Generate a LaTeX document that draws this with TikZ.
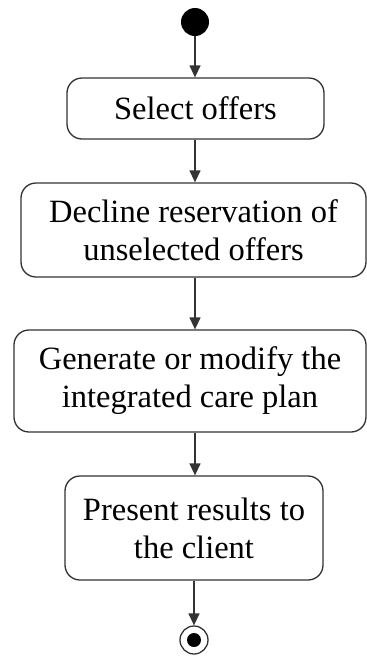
\documentclass[tikz,border=0pt]{standalone}
\usepackage{fontspec}
\setmainfont{Liberation Serif}
\usetikzlibrary{arrows.meta}
\begin{document}
\begin{tikzpicture}[x=1pt,y=1pt,
  line/.style={draw=black!80,line width=1.3pt},
  act/.style={line,rounded corners=15pt,align=center,inner sep=0pt,
    font=\fontsize{32.5}{38}\selectfont,fill=white},
  flow/.style={line,-{Triangle[width=11pt,length=12pt]}},
  ]
\useasboundingbox (0,0) rectangle (367,-657);
\fill[white] (0,0) rectangle (367,-657);
\coordinate (col) at (195,0);
\node[circle,fill=black,minimum size=28pt,inner sep=0pt] (start) at (195,-22) {};
\node[act,minimum width=257pt,minimum height=61pt] (a1) at (195.5,-108.5) {Select offers};
\node[act,minimum width=345pt,minimum height=94pt] (a2) at (193.5,-230) {Decline reservation of\\unselected offers};
\node[act,minimum width=352pt,minimum height=102pt] (a3) at (190,-381) {Generate or modify the\\integrated care plan};
\node[act,minimum width=258pt,minimum height=104pt] (a4) at (194,-528) {Present results to\\the client};
\node[circle,line,fill=white,minimum size=28pt,inner sep=0pt] (end) at (194,-640) {};
\node[circle,fill=black,minimum size=14pt,inner sep=0pt] (endin) at (end) {};
\draw[flow] (start.south -| col) -- (a1.north -| col);
\draw[flow] (a1.south -| col) -- (a2.north -| col);
\draw[flow] (a2.south -| col) -- (a3.north -| col);
\draw[flow] (a3.south -| col) -- (a4.north -| col);
\draw[flow] (a4.south -| end) -- (end.north);
\end{tikzpicture}
\end{document}
